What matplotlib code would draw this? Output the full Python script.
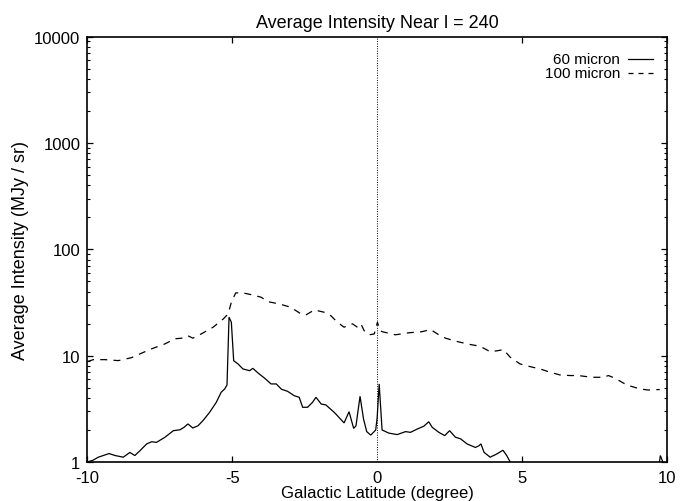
import matplotlib
matplotlib.use("Agg")
import matplotlib.pyplot as plt
from matplotlib.ticker import LogLocator, NullFormatter

plt.rcParams['font.family'] = ['Liberation Sans', 'DejaVu Sans']

# Galactic latitude (degree) and average intensity (MJy/sr), 60 micron band
lat_60 = [-10.0, -9.8, -9.62, -9.45, -9.25, -9.04, -8.76, -8.53, -8.36, -8.18,
          -7.95, -7.78, -7.61, -7.32, -7.03, -6.80, -6.66, -6.53, -6.36, -6.18,
          -6.01, -5.78, -5.55, -5.38, -5.26, -5.18, -5.11, -5.03, -4.95, -4.80,
          -4.63, -4.40, -4.29, -4.11, -3.88, -3.66, -3.48, -3.30, -3.09, -2.86,
          -2.69, -2.57, -2.40, -2.23, -2.11, -1.93, -1.77, -1.48, -1.14, -0.97,
          -0.81, -0.73, -0.59, -0.47, -0.36, -0.22, -0.05, 0.0, 0.07, 0.17,
          0.40, 0.69, 0.98, 1.15, 1.38, 1.61, 1.78, 1.90, 2.13, 2.33,
          2.50, 2.70, 2.88, 3.10, 3.39, 3.51, 3.58, 3.69, 3.90, 4.13,
          4.34, 4.47, 4.59, 4.65, 5.5, 6.5, 7.5, 8.5, 9.3, 9.72,
          9.77, 9.84, 9.92, 10.0]
int_60 = [1.0, 1.04, 1.11, 1.15, 1.20, 1.15, 1.11, 1.23, 1.15, 1.28,
          1.48, 1.55, 1.53, 1.71, 1.97, 2.01, 2.12, 2.28, 2.09, 2.19,
          2.45, 2.93, 3.64, 4.53, 4.86, 5.3, 23.0, 20.6, 8.97, 8.35,
          7.50, 7.22, 7.6, 6.87, 6.13, 5.42, 5.42, 4.83, 4.62, 4.20,
          4.06, 3.27, 3.27, 3.64, 4.06, 3.51, 3.44, 2.93, 2.33, 2.97,
          2.07, 2.19, 4.15, 2.54, 1.93, 1.79, 2.0, 2.6, 5.42, 2.0,
          1.87, 1.81, 1.93, 1.90, 2.04, 2.17, 2.39, 2.12, 1.90, 1.77,
          1.97, 1.71, 1.65, 1.48, 1.37, 1.42, 1.48, 1.23, 1.11, 1.19,
          1.29, 1.15, 1.0, 0.9, 0.75, 0.7, 0.7, 0.75, 0.85, 0.9,
          1.15, 1.03, 0.9, 0.85]

# 100 micron band
lat_100 = [-10.0, -9.79, -9.39, -8.93, -8.47, -8.18, -7.78, -7.32, -6.98, -6.74,
           -6.53, -6.36, -6.07, -5.66, -5.31, -5.14, -5.03, -4.88, -4.63, -4.29,
           -4.00, -3.77, -3.37, -2.98, -2.63, -2.46, -2.17, -1.83, -1.60, -1.37,
           -1.14, -1.02, -0.85, -0.68, -0.56, -0.45, -0.28, -0.10, 0.01, 0.10,
           0.17, 0.63, 1.09, 1.55, 1.84, 2.13, 2.36, 2.70, 3.16, 3.45,
           3.61, 3.90, 4.13, 4.36, 4.59, 4.93, 5.28, 5.62, 5.97, 6.31,
           6.66, 6.94, 7.40, 7.81, 7.98, 8.21, 8.61, 9.07, 9.36, 9.64, 9.75]
int_100 = [8.8, 9.17, 9.17, 8.98, 9.58, 10.4, 11.6, 12.9, 14.4, 14.6,
           15.4, 14.6, 16.0, 18.5, 22.1, 24.7, 31.8, 38.9, 38.9, 37.2,
           35.4, 32.2, 30.6, 28.5, 24.7, 24.1, 26.9, 25.6, 23.8, 20.6,
           18.5, 19.2, 19.9, 18.5, 19.9, 17.2, 15.7, 16.0, 20.6, 17.2,
           16.8, 15.7, 16.4, 16.8, 17.6, 15.7, 14.6, 13.7, 12.8, 12.4,
           12.0, 10.9, 11.1, 11.4, 9.66, 8.36, 7.88, 7.5, 6.98, 6.58,
           6.5, 6.5, 6.26, 6.26, 6.5, 6.13, 5.3, 4.86, 4.75, 4.79, 4.80]

xticks = [-10, -5, 0, 5, 10]
xtick_labels = ["-10", "-5", "0", "5", "10"]
yticks = [1, 10, 100, 1000, 10000]
ytick_labels = ["1", "10", "100", "1000", "10000"]
series_labels = ["60 micron", "100 micron"]

fig = plt.figure(figsize=(6.82, 5.02), dpi=100)
ax = fig.add_axes([0.128, 0.0777, 0.850, 0.8474])

ax.set_yscale('log')
ax.set_xlim(-10, 10)
ax.set_ylim(1, 10000)

line_60, = ax.plot(lat_60, int_60, color='black', lw=0.9, solid_joinstyle='miter')
line_100, = ax.plot(lat_100, int_100, color='black', lw=0.9, dashes=(5.6, 5.0))

# vertical zero axis
ax.axvline(0, color='black', lw=0.7, ls=(0, (1, 1.5)))

for sp in ax.spines.values():
    sp.set_linewidth(1.2)

ax.set_xticks(xticks, labels=xtick_labels)
ax.set_yticks(yticks, labels=ytick_labels)
ax.yaxis.set_minor_locator(LogLocator(base=10, subs=range(2, 10)))
ax.yaxis.set_minor_formatter(NullFormatter())
ax.tick_params(which='major', direction='in', length=4.3, width=0.9,
               top=True, right=True, labelsize=12, pad=5)
ax.tick_params(axis='x', which='major', pad=6.0)
ax.tick_params(which='minor', direction='in', length=2.2, width=0.8,
               top=True, right=True)
# the zero axis replaces the tick marks at x = 0
ax.xaxis.get_major_ticks()[2].tick1line.set_visible(False)
ax.xaxis.get_major_ticks()[2].tick2line.set_visible(False)

ax.set_title("Average Intensity Near l = 240", fontsize=13, pad=7)
ax.set_xlabel("Galactic Latitude (degree)", fontsize=12, labelpad=0)
ax.set_ylabel("Average Intensity (MJy / sr)", fontsize=13, labelpad=4)

# key in the upper right corner: label first, then the line sample
key_rows = [0.9476, 0.915]
for lbl, yk, ln in zip(series_labels, key_rows, [line_60, line_100]):
    ax.text(0.919, yk, lbl, transform=ax.transAxes, ha='right', va='center',
            fontsize=11)
    ax.plot([0.933, 0.976], [yk, yk], transform=ax.transAxes, color='black',
            lw=0.9, linestyle=ln.get_linestyle(),
            dashes=(4.0, 4.0) if ln is line_100 else (None, None))

fig.savefig("out.png", dpi=100)
